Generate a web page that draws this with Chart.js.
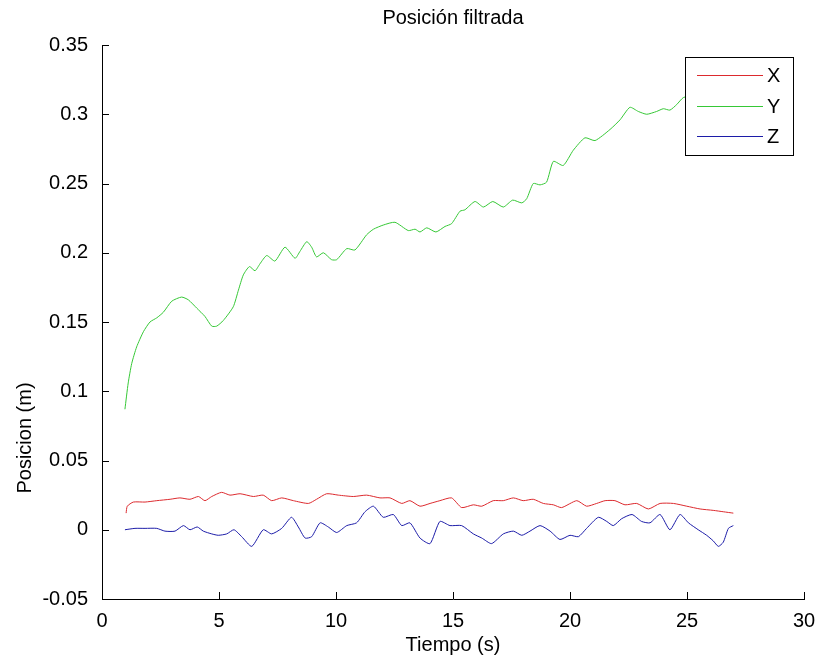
<!DOCTYPE html>
<html>
<head>
<meta charset="utf-8">
<script src="https://cdn.jsdelivr.net/npm/chart.js@4.4.1/dist/chart.umd.min.js"></script>
<style>
  html, body { margin: 0; padding: 0; background: #fff; }
  canvas { display: block; }
</style>
</head>
<body>
<canvas id="posChart" width="818" height="660"></canvas>
<script>
// tiempo (s) y posicion (m)
const tX = [1.03, 1.08, 1.34, 1.84, 2.34, 2.91, 3.33, 3.76, 4.12, 4.40, 4.69, 5.11, 5.47, 5.90, 6.47, 6.89, 7.25, 7.68, 8.18, 8.82, 9.17, 9.60, 10.10, 10.74, 11.31, 11.88, 12.31, 12.81, 13.16, 13.59, 14.02, 14.44, 14.94, 15.37, 15.87, 16.23, 16.72, 17.15, 17.58, 18.00, 18.43, 18.86, 19.29, 19.64, 20.29, 20.71, 21.14, 21.50, 21.92, 22.35, 22.85, 23.35, 23.85, 24.42, 24.99, 25.56, 26.12, 26.55, 26.98];
const posX = [0.012, 0.017, 0.020, 0.020, 0.021, 0.022, 0.023, 0.022, 0.024, 0.021, 0.024, 0.027, 0.025, 0.026, 0.024, 0.025, 0.021, 0.023, 0.021, 0.019, 0.022, 0.026, 0.025, 0.024, 0.025, 0.023, 0.023, 0.019, 0.021, 0.017, 0.019, 0.021, 0.023, 0.016, 0.018, 0.017, 0.021, 0.021, 0.023, 0.021, 0.022, 0.019, 0.018, 0.016, 0.021, 0.017, 0.019, 0.021, 0.021, 0.018, 0.019, 0.015, 0.019, 0.019, 0.017, 0.015, 0.014, 0.013, 0.012];

const tY = [0.98, 1.12, 1.27, 1.48, 1.77, 2.05, 2.34, 2.62, 2.98, 3.40, 3.69, 4.05, 4.40, 4.69, 4.90, 5.18, 5.61, 5.83, 6.04, 6.30, 6.54, 6.75, 7.04, 7.39, 7.82, 8.25, 8.46, 8.75, 8.96, 9.17, 9.46, 9.81, 10.03, 10.46, 10.81, 11.31, 11.60, 12.02, 12.52, 13.09, 13.38, 13.59, 13.88, 14.27, 14.66, 14.94, 15.30, 15.51, 15.94, 16.30, 16.70, 17.15, 17.55, 17.94, 18.15, 18.43, 18.72, 19.00, 19.29, 19.71, 20.14, 20.64, 21.07, 21.71, 22.14, 22.56, 22.92, 23.28, 23.70, 23.99, 24.27, 24.56, 24.84, 25.30, 25.80, 26.30, 26.80, 27.00];
const posY = [0.087, 0.106, 0.120, 0.132, 0.143, 0.150, 0.153, 0.157, 0.165, 0.168, 0.166, 0.160, 0.154, 0.147, 0.147, 0.151, 0.161, 0.173, 0.184, 0.190, 0.187, 0.192, 0.198, 0.194, 0.204, 0.196, 0.201, 0.208, 0.204, 0.197, 0.200, 0.195, 0.195, 0.203, 0.202, 0.213, 0.217, 0.220, 0.222, 0.216, 0.217, 0.215, 0.218, 0.215, 0.219, 0.221, 0.230, 0.231, 0.237, 0.233, 0.237, 0.233, 0.238, 0.236, 0.239, 0.250, 0.249, 0.251, 0.266, 0.263, 0.274, 0.283, 0.281, 0.289, 0.296, 0.305, 0.302, 0.300, 0.302, 0.304, 0.303, 0.307, 0.312, 0.314, 0.316, 0.318, 0.320, 0.321];

const tZ = [0.98, 1.41, 1.84, 2.34, 2.69, 3.12, 3.48, 3.76, 4.07, 4.33, 4.69, 4.97, 5.33, 5.64, 5.97, 6.40, 6.89, 7.25, 7.68, 8.10, 8.39, 8.68, 8.96, 9.32, 9.67, 10.03, 10.46, 10.88, 11.24, 11.60, 12.02, 12.45, 12.81, 13.16, 13.59, 14.02, 14.44, 14.87, 15.37, 15.87, 16.23, 16.65, 17.15, 17.58, 17.94, 18.29, 18.72, 19.15, 19.57, 20.00, 20.36, 20.71, 21.21, 21.57, 21.85, 22.21, 22.65, 23.06, 23.42, 23.85, 24.27, 24.70, 25.06, 25.48, 25.84, 26.12, 26.34, 26.55, 26.77, 26.98];
const posZ = [0.000, 0.001, 0.001, 0.001, -0.001, -0.001, 0.003, 0.000, 0.002, -0.001, -0.003, -0.004, -0.003, 0.000, -0.005, -0.012, 0.000, -0.003, 0.001, 0.009, 0.002, -0.006, -0.005, 0.005, 0.002, -0.002, 0.003, 0.005, 0.013, 0.017, 0.009, 0.011, 0.003, 0.005, -0.006, -0.010, 0.006, 0.003, 0.003, -0.003, -0.006, -0.010, -0.003, -0.001, -0.004, -0.001, 0.003, -0.001, -0.007, -0.004, -0.005, 0.001, 0.009, 0.006, 0.003, 0.008, 0.011, 0.006, 0.005, 0.011, 0.000, 0.011, 0.005, 0.000, -0.004, -0.008, -0.012, -0.009, 0.001, 0.003];

const seriesNames = ['X', 'Y', 'Z'];
const xTickValues = [0, 5, 10, 15, 20, 25, 30];
const yTickValues = [-0.05, 0, 0.05, 0.1, 0.15, 0.2, 0.25, 0.3, 0.35];

const FONT = "'Liberation Sans', Arial, sans-serif";
const FS = 20;
const toPoints = (ts, vs) => ts.map((t, i) => ({ x: t, y: vs[i] }));

// ticks hacia dentro, como en MATLAB
const inwardTicks = {
  id: 'inwardTicks',
  afterDatasetsDraw(chart) {
    const { ctx, chartArea: a, scales: { x, y } } = chart;
    ctx.save();
    ctx.strokeStyle = '#000';
    ctx.lineWidth = 1;
    ctx.beginPath();
    x.ticks.forEach(t => {
      const px = Math.round(x.getPixelForValue(t.value)) + 0.5;
      ctx.moveTo(px, a.bottom);
      ctx.lineTo(px, a.bottom - 7);
    });
    y.ticks.forEach(t => {
      const py = Math.round(y.getPixelForValue(t.value)) + 0.5;
      ctx.moveTo(a.left, py);
      ctx.lineTo(a.left + 7, py);
    });
    ctx.stroke();
    ctx.restore();
  }
};

// leyenda dentro del area, con fondo blanco
const boxLegend = {
  id: 'boxLegend',
  afterDatasetsDraw(chart) {
    const { ctx, chartArea: a } = chart;
    const w = 108, h = 98;
    const left = Math.round(a.right - 11 - w), top = Math.round(a.top + 12);
    ctx.save();
    ctx.fillStyle = '#fff';
    ctx.fillRect(left, top, w, h);
    ctx.strokeStyle = '#000';
    ctx.lineWidth = 1;
    ctx.strokeRect(left + 0.5, top + 0.5, w, h);
    ctx.font = FS + 'px ' + FONT;
    ctx.textBaseline = 'middle';
    ctx.textAlign = 'left';
    chart.data.datasets.forEach((ds, i) => {
      const yy = top + Math.round(18 + i * 30.5) + 0.5;
      ctx.strokeStyle = ds.borderColor;
      ctx.lineWidth = 1.2;
      ctx.beginPath();
      ctx.moveTo(left + 12, yy);
      ctx.lineTo(left + 78, yy);
      ctx.stroke();
      ctx.fillStyle = '#000';
      ctx.fillText(ds.label, left + 82, yy + 1);
    });
    ctx.restore();
  }
};

// titulo y etiqueta del eje y
const labels = {
  id: 'labels',
  afterDraw(chart) {
    const { ctx, chartArea: a } = chart;
    ctx.save();
    ctx.fillStyle = '#000';
    ctx.font = FS + 'px ' + FONT;
    ctx.textAlign = 'center';
    ctx.textBaseline = 'middle';
    ctx.fillText('Posición filtrada', (a.left + a.right) / 2, 18);
    ctx.translate(25, 438);
    ctx.rotate(-Math.PI / 2);
    ctx.fillText('Posicion (m)', 0, 0);
    ctx.restore();
  }
};

const ctx = document.getElementById('posChart').getContext('2d');
const posChart = new Chart(ctx, {
  type: 'line',
  data: {
    datasets: [
      { label: seriesNames[0], data: toPoints(tX, posX), borderColor: '#dc2a2e' },
      { label: seriesNames[1], data: toPoints(tY, posY), borderColor: '#36c836' },
      { label: seriesNames[2], data: toPoints(tZ, posZ), borderColor: '#1c1ca8' }
    ]
  },
  options: {
    responsive: false,
    animation: false,
    layout: { padding: { top: 45, right: 14, left: 0, bottom: 0 } },
    elements: {
      line: { borderWidth: 1, tension: 0.2, fill: false },
      point: { radius: 0 }
    },
    plugins: {
      legend: { display: false },
      tooltip: { enabled: false }
    },
    scales: {
      x: {
        type: 'linear',
        min: 0,
        max: 30,
        afterBuildTicks: s => { s.ticks = xTickValues.map(v => ({ value: v })); },
        afterFit: s => { s.height = 61; },
        grid: { display: false },
        border: { display: true, color: '#000', width: 1 },
        ticks: { color: '#000', font: { family: FONT, size: FS }, padding: 2, maxRotation: 0 },
        title: { display: true, text: 'Tiempo (s)', color: '#000', font: { family: FONT, size: FS }, padding: { top: 0, bottom: 3 } }
      },
      y: {
        type: 'linear',
        min: -0.05,
        max: 0.35,
        afterBuildTicks: s => { s.ticks = yTickValues.map(v => ({ value: v })); },
        afterFit: s => { s.width = 102; },
        grid: { display: false },
        border: { display: true, color: '#000', width: 1 },
        ticks: {
          color: '#000',
          font: { family: FONT, size: FS },
          padding: 6,
          callback: v => String(Number(v.toFixed(2)))
        }
      }
    }
  },
  plugins: [inwardTicks, boxLegend, labels]
});
</script>
</body>
</html>
